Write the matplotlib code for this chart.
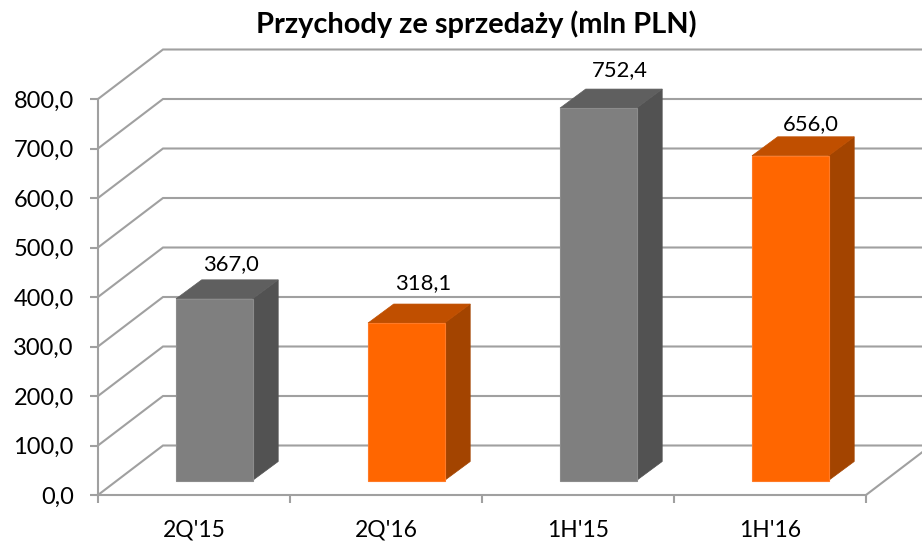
import matplotlib
matplotlib.use("Agg")
import matplotlib.pyplot as plt
from matplotlib.patches import Polygon

plt.rcParams['font.family'] = ['Lato', 'DejaVu Sans']

# dane
categories = ["2Q'15", "2Q'16", "1H'15", "1H'16"]
values = [367.0, 318.1, 752.4, 656.0]
labels = ["367,0", "318,1", "752,4", "656,0"]
y_ticks = [0, 100, 200, 300, 400, 500, 600, 700, 800]
y_tick_labels = ["0,0", "100,0", "200,0", "300,0", "400,0", "500,0", "600,0", "700,0", "800,0"]

GREY = ("#7f7f7f", "#5f5f5f", "#525252", "#8c8c8c")
ORANGE = ("#ff6600", "#c04f00", "#a34400", "#ff7a26")
styles = [GREY, ORANGE, GREY, ORANGE]
# przesuniecie etykiet wzgledem slupka (punkty)
label_dx = [12.2, 12.2, 15.8, 15.1]
label_dy = [25, 29, 27.4, 23]

W, H = 922, 541
LEFT, BOTTOM, TOP = 98, 495.0, 35
PITCH = 192.0       # px na kategorie
PX_VAL = 0.495      # px na jednostke osi y

# glebokosc "3D" w jednostkach osi
WALL_DX = 65 / PITCH
WALL_DY = 100
BAR_W = 76.5 / PITCH
BAR_X0 = (176 - LEFT) / PITCH
BAR_BASE = 14.5 / PX_VAL
DEPTH_DX = 25.7 / PITCH
DEPTH_DY = 19 / PX_VAL

LINE = "#a0a0a0"
LW = 1.5

fig = plt.figure(figsize=(W / 100, H / 100), dpi=100)
ax = fig.add_axes([LEFT / W, 1 - BOTTOM / H, (W - LEFT) / W, (BOTTOM - TOP) / H])
ax.set_xlim(0, (W - LEFT) / PITCH)
ax.set_ylim(0, (BOTTOM - TOP) / PX_VAL)

# siatka: sciana boczna i tylna
x_end = (W - LEFT) / PITCH
for v in y_ticks:
    ax.plot([0, WALL_DX, x_end], [v, v + WALL_DY, v + WALL_DY], color=LINE, lw=LW,
            solid_joinstyle='miter', clip_on=False, zorder=1)

# podloga
n = len(categories)
ax.plot([n, n + (W - LEFT - n * PITCH) / PITCH], [0, (W - LEFT - n * PITCH) / 65 * WALL_DY],
        color=LINE, lw=LW, clip_on=False, zorder=1)

# slupki
for i, val in enumerate(values):
    front, top, side, edge = styles[i]
    x0 = i + BAR_X0
    x1 = x0 + BAR_W
    y0 = BAR_BASE
    y1 = BAR_BASE + val
    ax.add_patch(Polygon([(x1, y0), (x1 + DEPTH_DX, y0 + DEPTH_DY), (x1 + DEPTH_DX, y1 + DEPTH_DY), (x1, y1)],
                         facecolor=side, edgecolor=side, lw=0.5, zorder=3))
    ax.add_patch(Polygon([(x0, y1), (x1, y1), (x1 + DEPTH_DX, y1 + DEPTH_DY), (x0 + DEPTH_DX, y1 + DEPTH_DY)],
                         facecolor=top, edgecolor=top, lw=0.5, zorder=3))
    ax.add_patch(Polygon([(x0, y0), (x1, y0), (x1, y1), (x0, y1)],
                         facecolor=front, edgecolor=edge, lw=0.8, zorder=4))
    ax.annotate(labels[i], xy=(x0 + BAR_W / 2, y1), xytext=(label_dx[i], label_dy[i]),
                textcoords='offset points', ha='center', va='center',
                fontsize=15.8, color='black', zorder=5)

# osie
for s in ['top', 'right']:
    ax.spines[s].set_visible(False)
for s in ['left', 'bottom']:
    ax.spines[s].set_color(LINE)
    ax.spines[s].set_linewidth(LW)
ax.spines['left'].set_bounds(0, 800)
ax.spines['bottom'].set_bounds(0, n)

ax.set_yticks(y_ticks)
ax.set_yticklabels(y_tick_labels, fontsize=17)
ax.set_xticks(range(n + 1))
ax.set_xticklabels([""] * (n + 1))
ax.set_xticks([i + 0.5 for i in range(n)], minor=True)
ax.set_xticklabels(categories, minor=True, fontsize=16.5)
ax.tick_params(axis='y', length=6, width=LW, color=LINE, pad=11.5, labelcolor='black')
ax.tick_params(axis='x', which='major', length=6, width=LW, color=LINE)
ax.tick_params(axis='x', which='minor', length=0, pad=18, labelcolor='black')

fig.text(476 / W, 1 - 33 / H, "Przychody ze sprzedaży (mln PLN)", ha='center', va='baseline',
         fontsize=20.9, fontweight='bold', color='black')

fig.savefig("out.png", dpi=100)
